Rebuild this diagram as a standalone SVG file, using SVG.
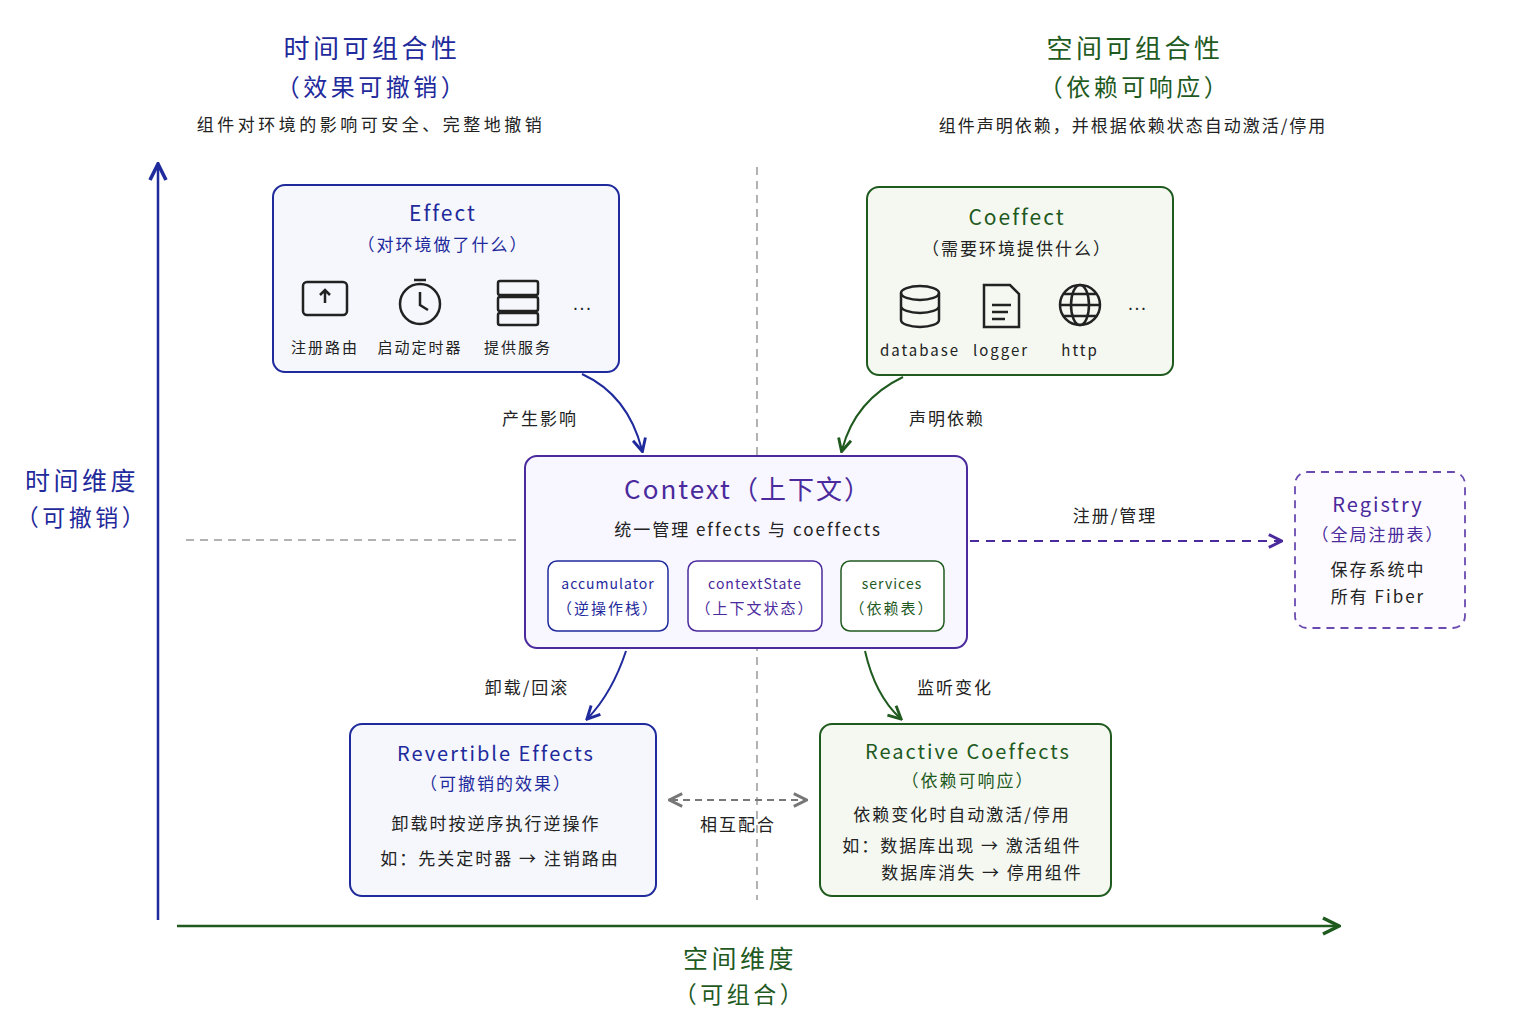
<svg xmlns="http://www.w3.org/2000/svg" width="1536" height="1024" viewBox="0 0 1536 1024">
<defs>
<style>
text{font-family:"Noto Sans CJK SC","Noto Sans",sans-serif;text-anchor:middle;fill:#222;letter-spacing:2px}
.b{fill:#1f2a9c}.g{fill:#1f5a1f}.p{fill:#4a2a9c}
.w{letter-spacing:3.5px}
.box{stroke-width:2}
.ic{fill:none;stroke:#222;stroke-width:2.5}
</style>
<marker id="ab" viewBox="0 0 10 10" refX="8" refY="5" markerWidth="8" markerHeight="8" orient="auto"><path d="M1,1 L9,5 L1,9" fill="none" stroke="#1f2a9c" stroke-width="1.8"/></marker>
<marker id="ag" viewBox="0 0 10 10" refX="8" refY="5" markerWidth="8" markerHeight="8" orient="auto"><path d="M1,1 L9,5 L1,9" fill="none" stroke="#1f5a1f" stroke-width="1.8"/></marker>
<marker id="ap" viewBox="0 0 10 10" refX="8" refY="5" markerWidth="8" markerHeight="8" orient="auto"><path d="M1,1 L9,5 L1,9" fill="none" stroke="#4a2a9c" stroke-width="1.8"/></marker>
<marker id="ay" viewBox="0 0 10 10" refX="8" refY="5" markerWidth="8" markerHeight="8" orient="auto-start-reverse"><path d="M1,1 L9,5 L1,9" fill="none" stroke="#777" stroke-width="1.8"/></marker>
</defs>
<rect width="1536" height="1024" fill="#fff"/>
<g id="titles">
<text x="372" y="58" font-size="26" class="b w">时间可组合性</text>
<text x="372" y="96" font-size="24" class="b w">（效果可撤销）</text>
<text x="371" y="131" font-size="17" class="w">组件对环境的影响可安全、完整地撤销</text>
<text x="1135" y="58" font-size="26" class="g w">空间可组合性</text>
<text x="1135" y="96" font-size="24" class="g w">（依赖可响应）</text>
<text x="1133" y="132" font-size="17">组件声明依赖，并根据依赖状态自动激活/停用</text>
<text x="82" y="490" font-size="25" class="b w">时间维度</text>
<text x="82" y="526" font-size="23" class="b w">（可撤销）</text>
<text x="740" y="968" font-size="25" class="g w">空间维度</text>
<text x="740" y="1003" font-size="23" class="g w">（可组合）</text>
</g>
<g id="axes">
<line x1="757" y1="167" x2="757" y2="900" stroke="#999" stroke-width="1.5" stroke-dasharray="8 6"/>
<line x1="186" y1="540" x2="520" y2="540" stroke="#999" stroke-width="1.5" stroke-dasharray="8 6"/>
<line x1="158" y1="920" x2="158" y2="166" stroke="#1f2a9c" stroke-width="2.5" marker-end="url(#ab)"/>
<line x1="177" y1="926" x2="1337" y2="926" stroke="#1f5a1f" stroke-width="2.5" marker-end="url(#ag)"/>
</g>
<g id="effect">
<rect x="273" y="185" width="346" height="187" rx="12" fill="#f5f7fd" stroke="#1f2a9c" class="box"/>
<text x="443" y="221" font-size="21" class="b">Effect</text>
<text x="443" y="251" font-size="17" class="b">（对环境做了什么）</text>
<rect x="303" y="282" width="44" height="33" rx="4" class="ic"/><path d="M325,303 V290 M320,295 L325,290 L330,295" class="ic" stroke-width="2"/>
<circle cx="420" cy="304" r="20" class="ic"/><path d="M420,292 V305 L428,310 M414,280 H426" class="ic"/>
<rect x="498" y="281" width="40" height="14" rx="2" class="ic"/><rect x="498" y="297" width="40" height="14" rx="2" class="ic"/><rect x="498" y="313" width="40" height="12" rx="2" class="ic"/>
<text x="583" y="310" font-size="16">...</text>
<text x="325" y="353" font-size="15">注册路由</text>
<text x="420" y="353" font-size="15">启动定时器</text>
<text x="518" y="353" font-size="15">提供服务</text>
</g>
<g id="coeffect">
<rect x="867" y="187" width="306" height="188" rx="12" fill="#f4f8f1" stroke="#1f5a1f" class="box"/>
<text x="1017" y="225" font-size="21" class="g">Coeffect</text>
<text x="1017" y="255" font-size="17">（需要环境提供什么）</text>
<ellipse cx="920" cy="293" rx="19" ry="7" class="ic"/><path d="M901,293 V320 A19,7 0 0 0 939,320 V293 M901,306 A19,7 0 0 0 939,306" class="ic"/>
<path d="M984,285 H1010 L1019,294 V327 H984 Z M992,305 H1011 M992,312 H1008 M992,319 H1005" class="ic"/>
<circle cx="1080" cy="305" r="20" class="ic"/><ellipse cx="1080" cy="305" rx="9" ry="20" class="ic"/><path d="M1060,305 H1100 M1064,294 H1096 M1064,316 H1096" class="ic" stroke-width="2"/>
<text x="1138" y="310" font-size="16">...</text>
<text x="920" y="356" font-size="15">database</text>
<text x="1001" y="356" font-size="15">logger</text>
<text x="1080" y="356" font-size="15">http</text>
</g>
<g id="context">
<rect x="525" y="456" width="442" height="192" rx="12" fill="#f8f6fe" stroke="#4a2a9c" class="box"/>
<text x="748" y="499" font-size="26" class="p">Context（上下文）</text>
<text x="748" y="536" font-size="17">统一管理 effects 与 coeffects</text>
<rect x="548" y="561" width="120" height="70" rx="9" fill="#fff" stroke="#1f2a9c" stroke-width="1.5"/>
<text x="608" y="589" font-size="14" class="b" style="letter-spacing:1px">accumulator</text><text x="608" y="614" font-size="15" class="b">（逆操作栈）</text>
<rect x="688" y="561" width="134" height="70" rx="9" fill="#fff" stroke="#4a2a9c" stroke-width="1.5"/>
<text x="755" y="589" font-size="14" class="p" style="letter-spacing:1px">contextState</text><text x="755" y="614" font-size="15" class="p">（上下文状态）</text>
<rect x="841" y="561" width="103" height="70" rx="9" fill="#fff" stroke="#1f5a1f" stroke-width="1.5"/>
<text x="892" y="589" font-size="14" class="g" style="letter-spacing:1px">services</text><text x="892" y="614" font-size="15" class="g">（依赖表）</text>
</g>
<g id="registry">
<rect x="1295" y="472" width="170" height="156" rx="12" fill="#fdfbff" stroke="#6a4ab0" stroke-width="1.8" stroke-dasharray="8 6"/>
<text x="1378" y="512" font-size="20" class="p">Registry</text>
<text x="1378" y="541" font-size="17" class="p">（全局注册表）</text>
<text x="1378" y="576" font-size="17">保存系统中</text>
<text x="1378" y="603" font-size="17">所有 Fiber</text>
</g>
<g id="revertible">
<rect x="350" y="724" width="306" height="172" rx="12" fill="#f5f7fd" stroke="#1f2a9c" class="box"/>
<text x="496" y="761" font-size="20" class="b">Revertible Effects</text>
<text x="496" y="790" font-size="17" class="b">（可撤销的效果）</text>
<text x="496" y="830" font-size="17">卸载时按逆序执行逆操作</text>
<text x="500" y="865" font-size="17">如：先关定时器 → 注销路由</text>
</g>
<g id="reactive">
<rect x="820" y="724" width="291" height="172" rx="12" fill="#f4f8f1" stroke="#1f5a1f" class="box"/>
<text x="968" y="759" font-size="20" class="g">Reactive Coeffects</text>
<text x="968" y="787" font-size="17" class="g">（依赖可响应）</text>
<text x="962" y="821" font-size="17">依赖变化时自动激活/停用</text>
<text x="962" y="852" font-size="17">如：数据库出现 → 激活组件</text>
<text x="982" y="879" font-size="17">数据库消失 → 停用组件</text>
</g>
<g id="connectors" fill="none" stroke-width="2">
<path d="M582,374 Q628,395 642,450" stroke="#1f2a9c" marker-end="url(#ab)"/>
<path d="M903,377 Q855,400 842,450" stroke="#1f5a1f" marker-end="url(#ag)"/>
<path d="M626,651 Q612,693 588,718" stroke="#1f2a9c" marker-end="url(#ab)"/>
<path d="M865,651 Q875,695 900,718" stroke="#1f5a1f" marker-end="url(#ag)"/>
<line x1="970" y1="541" x2="1280" y2="541" stroke="#4a2a9c" stroke-dasharray="9 7" marker-end="url(#ap)"/>
<line x1="671" y1="800" x2="805" y2="800" stroke="#777" stroke-dasharray="7 5" marker-start="url(#ay)" marker-end="url(#ay)"/>
</g>
<g id="connector-labels" font-size="17">
<text x="540" y="425">产生影响</text>
<text x="947" y="425">声明依赖</text>
<text x="527" y="694">卸载/回滚</text>
<text x="955" y="694">监听变化</text>
<text x="1115" y="522">注册/管理</text>
<text x="738" y="831">相互配合</text>
</g>
</svg>
